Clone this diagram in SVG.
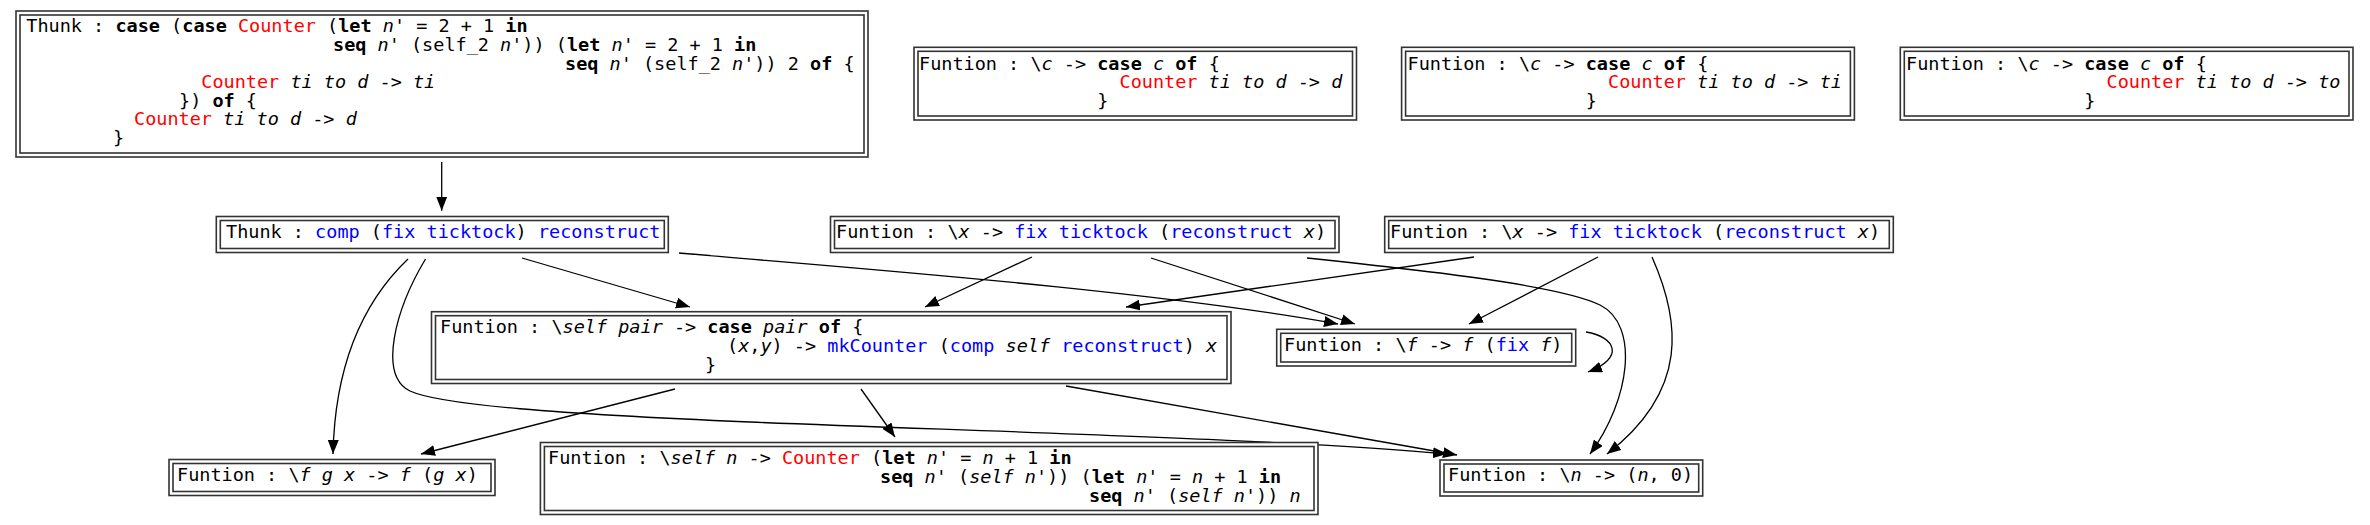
<svg xmlns="http://www.w3.org/2000/svg" width="2370" height="525" viewBox="0 0 2370 525">
<style>
.t{font-family:'DejaVu Sans Mono',monospace;font-size:18.5px;fill:#000}
.b{font-weight:bold}
.i{font-style:italic}
.r{fill:#ff0000}
.u{fill:#0000ff}
.bx{fill:#fff;stroke:#333;stroke-width:1.6}
.bi{fill:none;stroke:#333;stroke-width:1.6}
.e{fill:none;stroke:#000;stroke-width:1.3}
</style>
<defs>
<marker id="ah" viewBox="0 0 14 11" refX="14" refY="5.5" markerWidth="14" markerHeight="11" markerUnits="userSpaceOnUse" orient="auto"><path d="M0,0 L14,5.5 L0,11 z" fill="#000"/></marker>
</defs>
<rect width="2370" height="525" fill="#fff"/>
<g id="edges">
<path class="e" marker-end="url(#ah)" d="M441.7,162 L441.7,210.7"/>
<path class="e" marker-end="url(#ah)" d="M408,259 C365,300 335,360 333,454"/>
<path class="e" marker-end="url(#ah)" d="M425.5,259 C395,310 378,375 410,391 C440,405 560,414 750,422 C1000,432 1300,440 1447,454"/>
<path class="e" marker-end="url(#ah)" d="M522,258 L690,307"/>
<path class="e" marker-end="url(#ah)" d="M679,253 C850,268 1150,290 1338,324"/>
<path class="e" marker-end="url(#ah)" d="M1032,257 L925,307"/>
<path class="e" marker-end="url(#ah)" d="M1151,258 L1355,324"/>
<path class="e" marker-end="url(#ah)" d="M1307,258 C1420,270 1560,285 1600,305 C1640,325 1630,400 1590,454"/>
<path class="e" marker-end="url(#ah)" d="M1474,257 L1126,307"/>
<path class="e" marker-end="url(#ah)" d="M1598,257 L1469,324"/>
<path class="e" marker-end="url(#ah)" d="M1652,257 C1680,320 1690,390 1607,454"/>
<path class="e" marker-end="url(#ah)" d="M675,389 L421,454"/>
<path class="e" marker-end="url(#ah)" d="M861,389 L895,437"/>
<path class="e" marker-end="url(#ah)" d="M1066,386 L1457,455"/>
<path class="e" marker-end="url(#ah)" d="M1586,332 C1616,337 1625,358 1588,372"/>
</g>
<g id="thunk_case">
<rect class="bx" x="16" y="11" width="852" height="146"/>
<rect class="bi" x="20" y="15" width="844" height="138"/>
<text class="t" x="26.3" y="32.3" xml:space="preserve">Thunk : <tspan class="b">case</tspan> (<tspan class="b">case</tspan> <tspan class="r">Counter</tspan> (<tspan class="b">let</tspan> <tspan class="i">n</tspan>' = 2 + 1 <tspan class="b">in</tspan></text>
<text class="t" x="333" y="50.9" xml:space="preserve"><tspan class="b">seq</tspan> <tspan class="i">n</tspan>' (self_2 <tspan class="i">n</tspan>')) (<tspan class="b">let</tspan> <tspan class="i">n</tspan>' = 2 + 1 <tspan class="b">in</tspan></text>
<text class="t" x="565" y="69.5" xml:space="preserve"><tspan class="b">seq</tspan> <tspan class="i">n</tspan>' (self_2 <tspan class="i">n</tspan>')) 2 <tspan class="b">of</tspan> {</text>
<text class="t" x="201.3" y="88.1" xml:space="preserve"><tspan class="r">Counter</tspan> <tspan class="i">ti to d</tspan> -&gt; <tspan class="i">ti</tspan></text>
<text class="t" x="179" y="106.7" xml:space="preserve">}) <tspan class="b">of</tspan> {</text>
<text class="t" x="134" y="125.3" xml:space="preserve"><tspan class="r">Counter</tspan> <tspan class="i">ti to d</tspan> -&gt; <tspan class="i">d</tspan></text>
<text class="t" x="113" y="143.9" xml:space="preserve">}</text>
</g>
<g id="fun_c_d">
<rect class="bx" x="914" y="47.3" width="442.5" height="72.7"/>
<rect class="bi" x="918" y="51.3" width="434.5" height="64.7"/>
<text class="t" x="919" y="69.5" xml:space="preserve">Funtion : \<tspan class="i">c</tspan> -&gt; <tspan class="b">case</tspan> <tspan class="i">c</tspan> <tspan class="b">of</tspan> {</text>
<text class="t" x="1119.5" y="88.1" xml:space="preserve"><tspan class="r">Counter</tspan> <tspan class="i">ti to d</tspan> -&gt; <tspan class="i">d</tspan></text>
<text class="t" x="1097.2" y="106.7" xml:space="preserve">}</text>
</g>
<g id="fun_c_ti">
<rect class="bx" x="1401.6" y="47.3" width="452.8" height="72.7"/>
<rect class="bi" x="1405.6" y="51.3" width="444.8" height="64.7"/>
<text class="t" x="1407.5" y="69.5" xml:space="preserve">Funtion : \<tspan class="i">c</tspan> -&gt; <tspan class="b">case</tspan> <tspan class="i">c</tspan> <tspan class="b">of</tspan> {</text>
<text class="t" x="1608" y="88.1" xml:space="preserve"><tspan class="r">Counter</tspan> <tspan class="i">ti to d</tspan> -&gt; <tspan class="i">ti</tspan></text>
<text class="t" x="1585.7" y="106.7" xml:space="preserve">}</text>
</g>
<g id="fun_c_to">
<rect class="bx" x="1900.3" y="47.3" width="452.7" height="72.7"/>
<rect class="bi" x="1904.3" y="51.3" width="444.7" height="64.7"/>
<text class="t" x="1906" y="69.5" xml:space="preserve">Funtion : \<tspan class="i">c</tspan> -&gt; <tspan class="b">case</tspan> <tspan class="i">c</tspan> <tspan class="b">of</tspan> {</text>
<text class="t" x="2106.5" y="88.1" xml:space="preserve"><tspan class="r">Counter</tspan> <tspan class="i">ti to d</tspan> -&gt; <tspan class="i">to</tspan></text>
<text class="t" x="2084.2" y="106.7" xml:space="preserve">}</text>
</g>
<g id="thunk_comp">
<rect class="bx" x="216.3" y="216.5" width="452" height="36"/>
<rect class="bi" x="220.3" y="220.5" width="444" height="28"/>
<text class="t" x="226" y="237.8" xml:space="preserve">Thunk : <tspan class="u">comp</tspan> (<tspan class="u">fix ticktock</tspan>) <tspan class="u">reconstruct</tspan></text>
</g>
<g id="fun_x_1">
<rect class="bx" x="830.5" y="216.5" width="508.5" height="36"/>
<rect class="bi" x="834.5" y="220.5" width="500.5" height="28"/>
<text class="t" x="836" y="237.8" xml:space="preserve">Funtion : \<tspan class="i">x</tspan> -&gt; <tspan class="u">fix ticktock</tspan> (<tspan class="u">reconstruct</tspan> <tspan class="i">x</tspan>)</text>
</g>
<g id="fun_x_2">
<rect class="bx" x="1384.7" y="216.5" width="508.6" height="36"/>
<rect class="bi" x="1388.7" y="220.5" width="500.6" height="28"/>
<text class="t" x="1390" y="237.8" xml:space="preserve">Funtion : \<tspan class="i">x</tspan> -&gt; <tspan class="u">fix ticktock</tspan> (<tspan class="u">reconstruct</tspan> <tspan class="i">x</tspan>)</text>
</g>
<g id="fun_self_pair">
<rect class="bx" x="431.5" y="311.7" width="799.5" height="71.8"/>
<rect class="bi" x="435.5" y="315.7" width="791.5" height="63.8"/>
<text class="t" x="440" y="333.3" xml:space="preserve">Funtion : \<tspan class="i">self pair</tspan> -&gt; <tspan class="b">case</tspan> <tspan class="i">pair</tspan> <tspan class="b">of</tspan> {</text>
<text class="t" x="727" y="351.9" xml:space="preserve">(<tspan class="i">x</tspan>,<tspan class="i">y</tspan>) -&gt; <tspan class="u">mkCounter</tspan> (<tspan class="u">comp</tspan> <tspan class="i">self</tspan> <tspan class="u">reconstruct</tspan>) <tspan class="i">x</tspan></text>
<text class="t" x="705" y="370.5" xml:space="preserve">}</text>
</g>
<g id="fun_fix">
<rect class="bx" x="1276.7" y="329.3" width="299" height="36.7"/>
<rect class="bi" x="1280.7" y="333.3" width="291" height="28.7"/>
<text class="t" x="1284" y="351" xml:space="preserve">Funtion : \<tspan class="i">f</tspan> -&gt; <tspan class="i">f</tspan> (<tspan class="u">fix</tspan> <tspan class="i">f</tspan>)</text>
</g>
<g id="fun_comp">
<rect class="bx" x="169" y="459.5" width="326" height="36"/>
<rect class="bi" x="173" y="463.5" width="318" height="28"/>
<text class="t" x="177" y="480.8" xml:space="preserve">Funtion : \<tspan class="i">f g x</tspan> -&gt; <tspan class="i">f</tspan> (<tspan class="i">g x</tspan>)</text>
</g>
<g id="fun_self_n">
<rect class="bx" x="540.4" y="442.5" width="777.6" height="72"/>
<rect class="bi" x="544.4" y="446.5" width="769.6" height="64"/>
<text class="t" x="548" y="464.4" xml:space="preserve">Funtion : \<tspan class="i">self n</tspan> -&gt; <tspan class="r">Counter</tspan> (<tspan class="b">let</tspan> <tspan class="i">n</tspan>' = <tspan class="i">n</tspan> + 1 <tspan class="b">in</tspan></text>
<text class="t" x="880" y="483" xml:space="preserve"><tspan class="b">seq</tspan> <tspan class="i">n</tspan>' (<tspan class="i">self n</tspan>')) (<tspan class="b">let</tspan> <tspan class="i">n</tspan>' = <tspan class="i">n</tspan> + 1 <tspan class="b">in</tspan></text>
<text class="t" x="1089" y="501.6" xml:space="preserve"><tspan class="b">seq</tspan> <tspan class="i">n</tspan>' (<tspan class="i">self n</tspan>')) <tspan class="i">n</tspan></text>
</g>
<g id="fun_n">
<rect class="bx" x="1440" y="460" width="262.7" height="36"/>
<rect class="bi" x="1444" y="464" width="254.7" height="28"/>
<text class="t" x="1448" y="481.3" xml:space="preserve">Funtion : \<tspan class="i">n</tspan> -&gt; (<tspan class="i">n</tspan>, 0)</text>
</g>
</svg>
